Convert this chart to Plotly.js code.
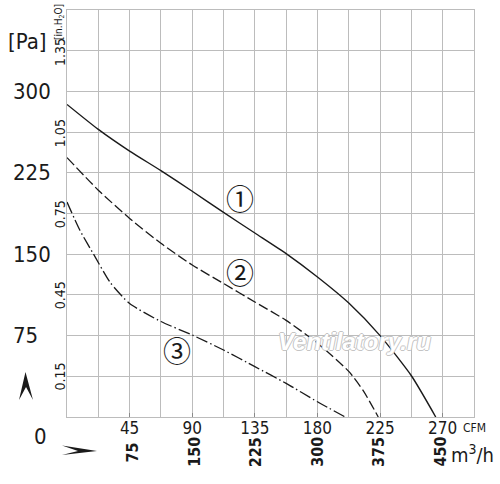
<!DOCTYPE html>
<html><head><meta charset="utf-8">
<script src="https://cdn.plot.ly/plotly-3.0.1.min.js"></script>
<style>html,body{margin:0;padding:0;background:#fff}#chart{width:500px;height:484px}</style>
</head><body><div id="chart"></div>
<script>
// ---- data (CFM vs Pa) ----
const cfm1 = [0, 22.5, 45, 67.5, 90, 112.5, 135, 157.5, 180, 202.5, 225, 247.5, 265];
const pa1  = [288, 265, 245, 227, 208, 188.5, 169.5, 150.5, 129, 105, 75, 38, 0];
const cfm2 = [0, 22.5, 45, 67.5, 90, 112.5, 135, 157.5, 180, 202.5, 213, 223.7];
const pa2  = [239, 209, 183, 160, 140, 123, 106, 89, 68, 42, 24, 0];
const cfm3 = [0, 9.3, 20, 31, 45, 67.5, 90, 112.5, 135, 157.5, 180, 200];
const pa3  = [198, 172, 148, 124, 104.5, 88, 75.5, 61.7, 46.4, 31, 14, 0];

const cfmTicks = [45, 90, 135, 180, 225, 270];
const m3hTicks = [75, 150, 225, 300, 375, 450];
const paTicks = [0, 75, 150, 225, 300];
const inH2OTicks = [0.15, 0.45, 0.75, 1.05, 1.35];
const curveLabels = ['\u2460', '\u2461', '\u2462'];
const curveLabelX = [124, 124.4, 79.3];
const curveLabelY = [202, 134, 61.7];

const M3H_PER_CFM = 1.699;
const PA_PER_INH2O = 249.09;

const NARROW = '"Liberation Sans Narrow", "DejaVu Sans Condensed", "Liberation Sans", sans-serif';
const GRID = '#bcbcbc';
const INK = '#1a1a1a';

const traces = [
  {x: cfm1, y: pa1, mode: 'lines', line: {color: INK, width: 1.4, shape: 'spline', smoothing: 0.6}, hoverinfo: 'skip'},
  {x: cfm2, y: pa2, mode: 'lines', line: {color: INK, width: 1.3, dash: '10px,3.5px', shape: 'spline', smoothing: 0.6}, hoverinfo: 'skip'},
  {x: cfm3, y: pa3, mode: 'lines', line: {color: INK, width: 1.3, dash: '12px,3px,1.5px,3px', shape: 'spline', smoothing: 0.6}, hoverinfo: 'skip'}
];

const ann = [];
// Pa labels
paTicks.forEach(v => {
  const zero = v === 0;
  ann.push({x: 0, xref: 'paper', y: v, yref: 'y', text: String(v), showarrow: false,
    xanchor: 'left', xshift: zero ? -35 : -56, yshift: zero ? -19 : 0,
    font: {family: NARROW, size: 22, color: INK}});
});
// in.H2O labels
inH2OTicks.forEach(v => {
  ann.push({x: 0, xref: 'paper', y: v * PA_PER_INH2O, yref: 'y', text: v.toFixed(2), showarrow: false,
    textangle: -90, xanchor: 'center', yanchor: 'middle', xshift: -7, yshift: 0,
    font: {family: NARROW, size: 14, color: INK}});
});
ann.push({x: 0, xref: 'paper', y: 364, yref: 'y', text: '[in.H<sub>2</sub>O]', showarrow: false,
  textangle: -90, xanchor: 'center', xshift: -7, font: {family: NARROW, size: 10, color: INK}});
ann.push({x: 0, xref: 'paper', y: 1, yref: 'paper', text: '[Pa]', showarrow: false,
  xanchor: 'center', yanchor: 'middle', xshift: -40, yshift: -31,
  font: {family: NARROW, size: 22, color: INK}});
// m3/h labels
m3hTicks.forEach(v => {
  ann.push({x: v / M3H_PER_CFM, xref: 'x', y: 0, yref: 'paper', text: '<b>' + v + '</b>', showarrow: false,
    textangle: -90, xanchor: 'center', yanchor: 'middle', xshift: 4, yshift: -35,
    font: {family: NARROW, size: 16, color: INK}});
});
ann.push({x: m3hTicks[m3hTicks.length - 1] / M3H_PER_CFM, xref: 'x', y: 0, yref: 'paper',
  text: 'm<sup>3</sup>/h', showarrow: false, xanchor: 'left', yanchor: 'middle', xshift: 13, yshift: -37,
  font: {family: NARROW, size: 20, color: INK}});
ann.push({x: cfmTicks[cfmTicks.length - 1], xref: 'x', y: 0, yref: 'paper', text: 'CFM', showarrow: false,
  xanchor: 'left', yanchor: 'middle', xshift: 18, yshift: -11,
  font: {family: NARROW, size: 12, color: INK}});
// curve labels
curveLabels.forEach((t, i) => {
  ann.push({x: curveLabelX[i], y: curveLabelY[i], xref: 'x', yref: 'y', text: t, showarrow: false,
    xanchor: 'center', yanchor: 'middle',
    font: {family: '"Noto Sans CJK JP", "DejaVu Sans", sans-serif', size: 28, color: INK}});
});
// watermark
ann.push({x: 0.7076, y: 0.1867, xref: 'paper', yref: 'paper', text: '<b><i>Ventilatory.ru</i></b>', showarrow: false,
  xanchor: 'center', yanchor: 'middle',
  font: {family: '"Liberation Sans", Arial, sans-serif', size: 24, color: '#ffffff',
    shadow: '1px 0 0 #c4c4c4, -1px 0 0 #c4c4c4, 0 1px 0 #c4c4c4, 0 -1px 0 #c4c4c4'}});

// arrow glyphs (decoration, pixel -> paper helper)
const L = 67, T = 10, W = 407, H = 407;
function P(px, py) { return ((px - L) / W).toFixed(4) + ',' + ((T + H - py) / H).toFixed(4); }
const upArrow = 'M' + P(25.5, 372) + ' L' + P(33, 400) + ' L' + P(26, 387) + ' L' + P(19, 400) + ' Z';
const rightArrow = 'M' + P(97, 451) + ' L' + P(62, 445.5) + ' L' + P(78, 451) + ' L' + P(62, 455) + ' Z';

const layout = {
  width: 500, height: 484,
  margin: {l: 67, r: 26, t: 10, b: 67},
  paper_bgcolor: '#fff', plot_bgcolor: '#fff',
  showlegend: false,
  xaxis: {
    range: [0, 292.5], tickvals: cfmTicks, ticktext: cfmTicks.map(String),
    showgrid: true, gridcolor: GRID, gridwidth: 1,
    minor: {dtick: 22.5, tick0: 0, showgrid: true, gridcolor: GRID, gridwidth: 1},
    ticks: 'inside', ticklen: 4, tickcolor: '#8a8a8a', tickwidth: 1,
    ticklabelstandoff: -4,
    showline: true, mirror: true, linecolor: GRID, linewidth: 1,
    zeroline: false, fixedrange: true,
    tickfont: {family: NARROW, size: 17, color: INK}
  },
  yaxis: {
    range: [0, 375], dtick: 37.5, tick0: 0, showticklabels: false,
    showgrid: true, gridcolor: GRID, gridwidth: 1,
    showline: true, mirror: true, linecolor: GRID, linewidth: 1,
    zeroline: false, fixedrange: true
  },
  annotations: ann,
  shapes: [
    {type: 'path', xref: 'paper', yref: 'paper', path: upArrow, fillcolor: INK, line: {width: 0}},
    {type: 'path', xref: 'paper', yref: 'paper', path: rightArrow, fillcolor: INK, line: {width: 0}}
  ]
};

Plotly.newPlot('chart', traces, layout, {displayModeBar: false, staticPlot: true});
</script>
</body></html>
